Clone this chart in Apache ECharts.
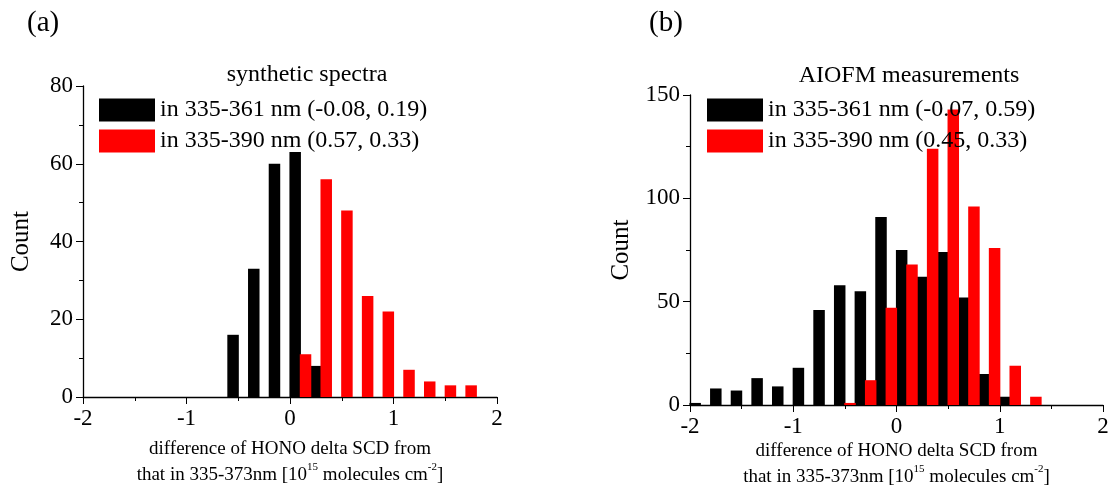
<!DOCTYPE html>
<html>
<head>
<meta charset="utf-8">
<script src="https://cdn.jsdelivr.net/npm/echarts@6/dist/echarts.min.js"></script>
<style>
  html, body { margin: 0; padding: 0; background: #fff; }
  #chart { width: 1109px; height: 486px; }
</style>
</head>
<body>
<div id="chart"></div>
<script>
// panel (a): synthetic spectra
var aBlackX = [-0.55, -0.35, -0.15, 0.05, 0.25];
var aBlackCount = [16, 33, 60, 63, 8];
var aRedX = [0.15, 0.35, 0.55, 0.75, 0.95, 1.15, 1.35, 1.55, 1.75];
var aRedCount = [11, 56, 48, 26, 22, 7, 4, 3, 3];

// panel (b): AIOFM measurements
var bBlackX = [-1.95, -1.75, -1.55, -1.35, -1.15, -0.95, -0.75, -0.55, -0.35, -0.15,
               0.05, 0.25, 0.45, 0.65, 0.85, 1.05];
var bBlackCount = [1, 8, 7, 13, 9, 18, 46, 58, 55, 91, 75, 62, 74, 52, 15, 4];
var bRedX = [-0.45, -0.25, -0.05, 0.15, 0.35, 0.55, 0.75, 0.95, 1.15, 1.35];
var bRedCount = [1, 12, 47, 68, 124, 143, 96, 76, 19, 4];

var aNames = ['in 335-361 nm (-0.08, 0.19)', 'in 335-390 nm (0.57, 0.33)'];
var bNames = ['in 335-361 nm (-0.07, 0.59)', 'in 335-390 nm (0.45, 0.33)'];

var xTicks = [-2, -1, 0, 1, 2];
var aYTicks = [0, 20, 40, 60, 80];
var bYTicks = [0, 50, 100, 150];

var FONT = 'Liberation Serif';

function pairs(xs, ys) {
    var out = [];
    for (var i = 0; i < xs.length; i++) out.push([xs[i], ys[i]]);
    return out;
}

function xAxisOpt(idx, gap) {
    return {
        type: 'value', gridIndex: idx,
        min: xTicks[0], max: xTicks[xTicks.length - 1], interval: 1,
        axisLine: { show: true, onZero: false, lineStyle: { color: '#000', width: 1.3 } },
        axisTick: { show: true, inside: false, length: 7, lineStyle: { color: '#000' } },
        minorTick: { show: true, splitNumber: 2, length: 4, lineStyle: { color: '#000' } },
        splitLine: { show: false },
        axisLabel: { color: '#000', fontFamily: FONT, fontSize: 23, margin: 10 },
        name: '{n|difference of HONO delta SCD from}\n{n|that in 335-373nm [10}{s|15}{n| molecules cm}{s|-2}{n|]}',
        nameLocation: 'middle', nameGap: gap, nameMoveOverlap: false,
        nameTextStyle: {
            color: '#000', fontFamily: FONT, lineHeight: 26,
            rich: {
                n: { fontSize: 19, fontFamily: FONT, color: '#000', lineHeight: 26 },
                s: { fontSize: 11, fontFamily: FONT, color: '#000', verticalAlign: 'top', lineHeight: 19 }
            }
        }
    };
}

function yAxisOpt(idx, max, interval, gap) {
    return {
        type: 'value', gridIndex: idx,
        min: 0, max: max, interval: interval,
        axisLine: { show: true, onZero: false, lineStyle: { color: '#000', width: 1.3 } },
        axisTick: { show: true, inside: false, length: 7, lineStyle: { color: '#000' } },
        minorTick: { show: true, splitNumber: 2, length: 4, lineStyle: { color: '#000' } },
        splitLine: { show: false },
        axisLabel: { color: '#000', fontFamily: FONT, fontSize: 23, margin: 10 },
        name: 'Count', nameLocation: 'middle', nameGap: gap, nameRotate: 90,
        nameMoveOverlap: false,
        nameTextStyle: { color: '#000', fontFamily: FONT, fontSize: 25 }
    };
}

function barSeries(name, idx, xs, ys, color) {
    return {
        name: name, type: 'bar',
        xAxisIndex: idx, yAxisIndex: idx,
        barWidth: 11.5, barGap: '-100%',
        itemStyle: { color: color },
        data: pairs(xs, ys)
    };
}

var chart = echarts.init(document.getElementById('chart'));
var option = {
    animation: false,
    backgroundColor: '#fff',
    title: [
        { text: '(a)', left: 22, top: 4, textStyle: { fontFamily: FONT, fontSize: 29, fontWeight: 'normal', color: '#000' } },
        { text: '(b)', left: 644, top: 4, textStyle: { fontFamily: FONT, fontSize: 29, fontWeight: 'normal', color: '#000' } },
        { text: 'synthetic spectra', left: 302, top: 58, textAlign: 'center', textStyle: { fontFamily: FONT, fontSize: 24, fontWeight: 'normal', color: '#000' } },
        { text: 'AIOFM measurements', left: 904, top: 59, textAlign: 'center', textStyle: { fontFamily: FONT, fontSize: 24, fontWeight: 'normal', color: '#000' } }
    ],
    legend: [
        {
            data: aNames, orient: 'vertical', left: 94, top: 93,
            icon: 'rect', itemWidth: 56, itemHeight: 23, itemGap: 7,
            textStyle: { fontFamily: FONT, fontSize: 24, color: '#000' }
        },
        {
            data: bNames, orient: 'vertical', left: 702, top: 93,
            icon: 'rect', itemWidth: 56, itemHeight: 23, itemGap: 7,
            textStyle: { fontFamily: FONT, fontSize: 24, color: '#000' }
        }
    ],
    grid: [
        { left: 83, right: 612, top: 86, bottom: 89, containLabel: false, outerBoundsMode: 'none' },
        { left: 690, right: 6, top: 95, bottom: 81, containLabel: false, outerBoundsMode: 'none' }
    ],
    xAxis: [xAxisOpt(0, 39), xAxisOpt(1, 33)],
    yAxis: [
        yAxisOpt(0, aYTicks[aYTicks.length - 1], 20, 49),
        yAxisOpt(1, bYTicks[bYTicks.length - 1], 50, 56)
    ],
    series: [
        barSeries(aNames[0], 0, aBlackX, aBlackCount, '#000000'),
        barSeries(aNames[1], 0, aRedX, aRedCount, '#ff0000'),
        barSeries(bNames[0], 1, bBlackX, bBlackCount, '#000000'),
        barSeries(bNames[1], 1, bRedX, bRedCount, '#ff0000')
    ]
};
chart.setOption(option);
</script>
</body>
</html>
